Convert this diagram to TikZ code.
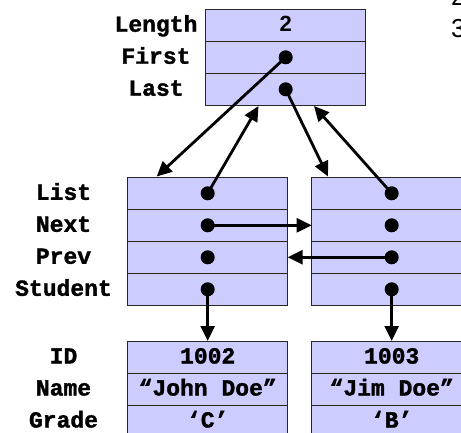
\documentclass[tikz,border=0pt]{standalone}
\usepackage{fontspec}
\setmonofont{Liberation Mono}[BoldFeatures={FakeBold=1.5}]
\newfontfamily\arialfont{Liberation Sans}
\usepackage{tikz}
\usetikzlibrary{arrows.meta,positioning}
\definecolor{lavender}{RGB}{204,204,255}

\begin{document}
\begin{tikzpicture}[x=1pt,y=-1pt,
	cell/.style={draw=black!85,line width=0.9pt,fill=lavender,minimum width=160pt,minimum height=32pt,inner sep=0pt,outer sep=0pt,text height=13pt,text depth=0pt,anchor=north west,font=\fontsize{23}{26}\selectfont\ttfamily\bfseries},
	fieldname/.style={inner sep=0pt,anchor=base,font=\fontsize{23}{26}\selectfont\ttfamily\bfseries},
	dot/.style={circle,fill=black,inner sep=0pt,minimum size=14pt},
	ptr/.style={line width=2.8pt,-{Triangle[length=15pt,width=14pt]}}]
		\useasboundingbox (0,0) rectangle (461,432);
		% list header
		\node (len) at (205.7,9.3)[cell,font=\arialfont\bfseries\fontsize{22}{24}\selectfont]{2} ;
		\node (first)[cell,below=0pt of len]{} ;
		\node (last)[cell,below=0pt of first]{} ;
		\node (lenName) at (156,31.7)[fieldname]{Length} ;
		\node (firstName) at (156,63.7)[fieldname]{First} ;
		\node (lastName) at (156,95.7)[fieldname]{Last} ;
		% the two list nodes
		\node (listA) at (127.7,177.3)[cell]{} ;
		\node (nextA)[cell,below=0pt of listA]{} ;
		\node (prevA)[cell,below=0pt of nextA]{} ;
		\node (studA)[cell,below=0pt of prevA]{} ;
		\node (listB) at (311.7,177.3)[cell]{} ;
		\node (nextB)[cell,below=0pt of listB]{} ;
		\node (prevB)[cell,below=0pt of nextB]{} ;
		\node (studB)[cell,below=0pt of prevB]{} ;
		\node (listName) at (63.5,199.8)[fieldname]{List} ;
		\node (nextName) at (63.5,231.8)[fieldname]{Next} ;
		\node (prevName) at (63.5,263.8)[fieldname]{Prev} ;
		\node (studName) at (63.5,295.8)[fieldname]{Student} ;
		% the two students
		\node (idA) at (127.7,341)[cell]{1002} ;
		\node (nameA)[cell,below=0pt of idA]{“John Doe”} ;
		\node (gradeA)[cell,below=0pt of nameA]{‘C’} ;
		\node (idB) at (311.7,341)[cell]{1003} ;
		\node (nameB)[cell,below=0pt of idB]{“Jim Doe”} ;
		\node (gradeB)[cell,below=0pt of nameB]{‘B’} ;
		\node (idName) at (63.5,363.5)[fieldname]{ID} ;
		\node (nameName) at (63.5,395.5)[fieldname]{Name} ;
		\node (gradeName) at (63.5,427.5)[fieldname]{Grade} ;
		% pointers
		\node (firstDot) at (first)[dot]{} ;
		\node (lastDot) at (last)[dot]{} ;
		\node (listADot) at (listA)[dot]{} ;
		\node (nextADot) at (nextA)[dot]{} ;
		\node (prevADot) at (prevA)[dot]{} ;
		\node (studADot) at (studA)[dot]{} ;
		\node (listBDot) at (listB)[dot]{} ;
		\node (nextBDot) at (nextB)[dot]{} ;
		\node (prevBDot) at (prevB)[dot]{} ;
		\node (studBDot) at (studB)[dot]{} ;
		\coordinate (toA) at (156.7,176.5) ;
		\coordinate (toB) at (328,176.5) ;
		\coordinate (backA) at (258.5,106) ;
		\coordinate (backB) at (314,106) ;
		\draw[ptr] (firstDot.center) -- (toA) ;
		\draw[ptr] (lastDot.center) -- (toB) ;
		\draw[ptr] (listADot.center) -- (backA) ;
		\draw[ptr] (listBDot.center) -- (backB) ;
		\draw[ptr] (nextADot.center) -- (nextB.west) ;
		\draw[ptr] (prevBDot.center) -- (prevA.east) ;
		\draw[ptr] (studADot.center) -- (idA.north) ;
		\draw[ptr] (studBDot.center) -- (idB.north) ;
		% cut off item numbers
		\node (itemTwo) at (451,5)[inner sep=0pt,anchor=base west,font=\arialfont\fontsize{26}{30}\selectfont]{2} ;
		\node (itemThree) at (451,37)[inner sep=0pt,anchor=base west,font=\arialfont\fontsize{26}{30}\selectfont]{3} ;
\end{tikzpicture}
\end{document}
